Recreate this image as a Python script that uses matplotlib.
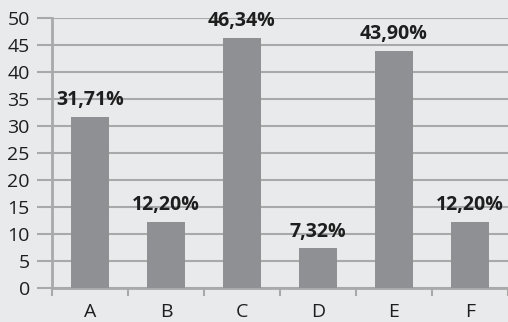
import matplotlib
matplotlib.use("Agg")
import matplotlib.pyplot as plt
import numpy as np

# data
categories = ["A", "B", "C", "D", "E", "F"]
values = [31.71, 12.20, 46.34, 7.32, 43.90, 12.20]
y_ticks = [0, 5, 10, 15, 20, 25, 30, 35, 40, 45, 50]

bg = "#e9eaeb"
bar_color = "#8f9093"
grid_color = "#a9a9a9"
text_color = "#1e1e1e"

plt.rcParams["font.family"] = ["Open Sans", "DejaVu Sans"]

fig = plt.figure(figsize=(5.08, 3.22), dpi=100, facecolor=bg)
ax = fig.add_axes([52 / 508, 1 - 288 / 322, 1 - 52 / 508, 270 / 322])
ax.set_facecolor(bg)

x = np.arange(len(categories))
ax.bar(x, values, width=0.49, color=bar_color, zorder=3)

# value labels above bars, decimal comma
for xi, v in zip(x, values):
    ax.annotate(f"{v:.2f}%".replace(".", ","), (xi, v), xytext=(0, 5),
                textcoords="offset points", ha="center", va="bottom",
                fontsize=14, fontweight="bold", color=text_color, zorder=4)

ax.set_xlim(-0.5, len(categories) - 0.5)
ax.set_ylim(0, 50)
ax.set_yticks(y_ticks)
ax.yaxis.grid(True, color=grid_color, linewidth=1.5, zorder=0)
ax.set_axisbelow(True)

ax.set_xticks(x)
ax.set_xticklabels(categories)
ax.set_xticks(np.arange(len(categories) + 1) - 0.5, minor=True)
ax.tick_params(axis="x", which="major", length=0, pad=10.5, labelsize=14, labelcolor=text_color)
ax.tick_params(axis="x", which="minor", length=6, width=1.5, color=grid_color, direction="out")
ax.tick_params(axis="y", length=11, width=1.5, color=grid_color, pad=5, labelsize=14, labelcolor=text_color)

for side in ["top", "right"]:
    ax.spines[side].set_visible(False)
for side in ["left", "bottom"]:
    ax.spines[side].set_color(grid_color)
    ax.spines[side].set_linewidth(2)

fig.savefig("out.png", dpi=100, facecolor=bg)
